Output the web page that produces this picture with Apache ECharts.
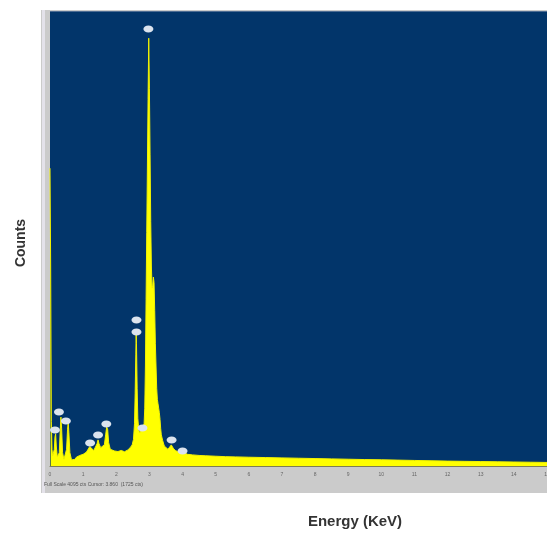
<!DOCTYPE html>
<html>
<head>
<meta charset="utf-8">
<script src="https://cdn.jsdelivr.net/npm/echarts@6/dist/echarts.min.js"></script>
<style>
html,body{margin:0;padding:0;background:#ffffff;}
#chart{width:547px;height:536px;}
</style>
</head>
<body>
<div id="chart"></div>
<script>
// Energy (keV) of each spectrum point
const energy = [
  0.00,0.02,0.04,0.06,0.08,0.10,0.13,0.15,0.17,0.19,0.22,0.25,0.28,0.31,0.33,0.35,0.38,0.42,0.46,0.50,
  0.53,0.55,0.57,0.60,0.65,0.70,0.75,0.80,0.90,1.00,1.10,1.16,1.20,1.23,1.26,1.32,1.38,1.42,1.45,1.48,
  1.53,1.58,1.64,1.68,1.71,1.74,1.77,1.82,1.88,1.95,2.05,2.15,2.25,2.35,2.42,2.48,2.52,2.55,2.57,2.59,
  2.60,2.61,2.63,2.65,2.68,2.71,2.74,2.77,2.80,2.82,2.84,2.86,2.88,2.90,2.92,2.94,2.96,2.98,3.00,3.02,
  3.04,3.06,3.08,3.10,3.12,3.14,3.16,3.18,3.20,3.22,3.24,3.26,3.28,3.30,3.32,3.34,3.36,3.40,3.45,3.50,
  3.56,3.62,3.66,3.69,3.72,3.78,3.85,3.92,3.98,4.01,4.05,4.15,4.30,4.50,4.70,5.00,5.30,5.60,6.00,6.50,
  7.00,7.50,8.00,8.50,9.00,9.50,10.00,10.50,11.00,11.50,12.00,12.50,13.00,13.50,14.00,14.50,15.00
];
// Counts at each energy
const counts = [
  2680,1800,400,150,90,80,150,260,290,180,80,72,120,330,440,340,120,60,54,150,
  330,390,300,120,55,54,60,80,95,105,125,140,175,190,160,140,150,200,235,200,
  165,160,190,280,350,330,210,150,140,135,130,140,128,145,165,190,240,380,650,1000,
  1200,1100,700,430,320,300,310,330,330,340,380,520,900,1500,2100,2700,3300,3850,3400,2800,
  2200,1800,1600,1620,1700,1650,1400,1100,900,700,600,560,520,480,420,340,280,230,180,165,
  150,160,190,200,160,140,130,120,130,140,120,105,100,95,92,88,84,82,79,76,
  73,70,67,64,61,58,56,53,50,47,44,42,40,38,36,34,32
];
// Peak identification markers (keV, counts)
const markerEnergy = [0.15,0.27,0.48,1.21,1.45,1.70,2.61,2.61,2.79,2.97,3.67,4.00];
const markerCounts = [324,486,405,207,279,378,1314,1206,342,3933,234,135];
// Axis tick labels
const xTicks = ['0','1','2','3','4','5','6','7','8','9','10','11','12','13','14','15'];
const yFullScale = 4095;

const L = 50, T = 11, R = 0, B = 70;
const W = 547, H = 536;

const chart = echarts.init(document.getElementById('chart'), null, {renderer:'canvas'});
const lineData = energy.map((e,i)=>[e,counts[i]]);
const markData = markerEnergy.map((e,i)=>[e,markerCounts[i]]);

chart.setOption({
  animation:false,
  grid:{left:L, top:T, right:R, bottom:B, outerBoundsMode:'none', containLabel:false},
  xAxis:{
    type:'value', min:0, max:15, interval:1,
    axisLine:{show:true, lineStyle:{color:'#7d7d55', width:1}},
    axisTick:{show:false},
    splitLine:{show:false},
    axisLabel:{
      show:true, fontSize:5, color:'#666', margin:6,
      showMaxLabel:true, showMinLabel:true,
      formatter:(v)=>xTicks[Math.round(v)]
    }
  },
  yAxis:{
    type:'value', min:0, max:yFullScale,
    axisLine:{show:false}, axisTick:{show:false}, splitLine:{show:false},
    axisLabel:{show:false}
  },
  graphic:[
    {type:'rect', z:-20, shape:{x:41,y:10,width:W-41,height:483}, style:{fill:'#cbcbcb'}},
    {type:'rect', z:-19, shape:{x:42,y:10,width:3,height:483}, style:{fill:'#e4e2ea'}},
    {type:'rect', z:-18, shape:{x:L,y:T,width:W-L-R,height:H-T-B}, style:{fill:'#02356a'}},
    {type:'rect', z:-17, shape:{x:L,y:T,width:W-L-R,height:1}, style:{fill:'#4d6c92'}},
    {type:'text', z:10, left:44, top:482, style:{text:'Full Scale 4095 cts Cursor: 3.860  (1725 cts)', fontSize:5, fill:'#555', fontFamily:'Liberation Sans'}},
    {type:'text', z:10, x:21, y:243, rotation:Math.PI/2, style:{text:'Counts', fontSize:14, fontWeight:'bold', fill:'#333', fontFamily:'Liberation Sans', align:'center', verticalAlign:'middle'}},
    {type:'text', z:10, x:355, y:522, style:{text:'Energy (KeV)', fontSize:15, fontWeight:'bold', fill:'#333', fontFamily:'Liberation Sans', align:'center', verticalAlign:'middle'}}
  ],
  series:[
    {
      type:'line', data:lineData, showSymbol:false, smooth:false,
      lineStyle:{color:'#f2f200', width:1},
      areaStyle:{color:'#ffff00', opacity:1},
      z:3
    },
    {
      type:'scatter', data:markData, symbol:'circle', symbolSize:[10,7],
      itemStyle:{color:'#dbe3ee', opacity:1},
      z:5
    }
  ]
});
</script>
</body>
</html>
